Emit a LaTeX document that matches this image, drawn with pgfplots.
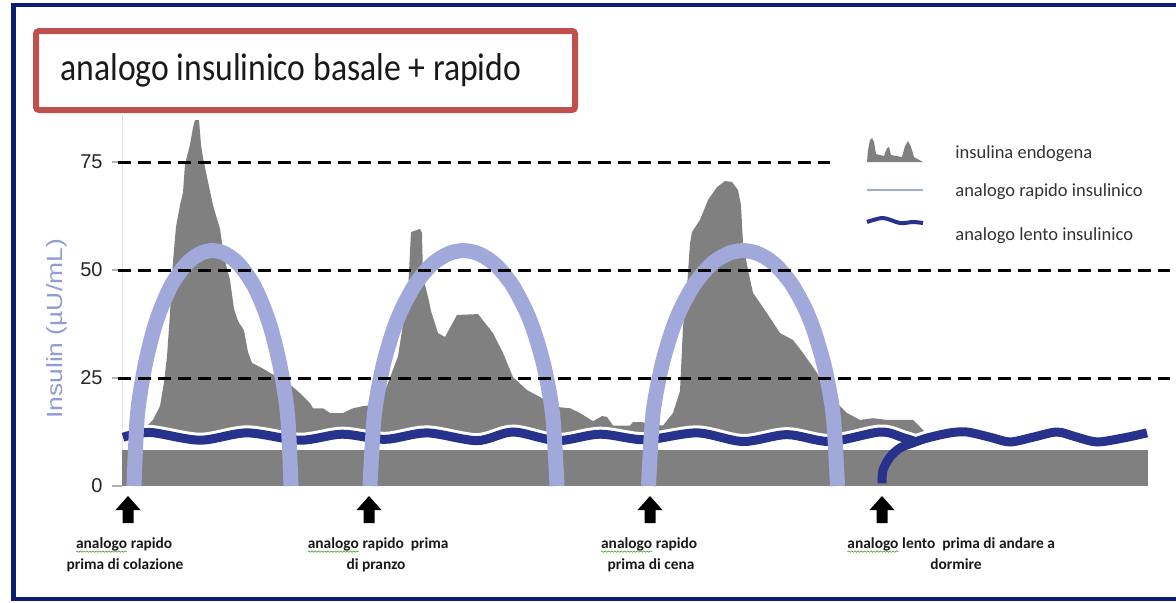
\documentclass[border=0pt]{standalone}
\usepackage{fontspec}
\setmainfont{Carlito}
\newfontfamily\helv{Liberation Sans}
\usepackage{pgfplots}
\pgfplotsset{compat=1.18}
\usetikzlibrary{decorations.pathmorphing}

\definecolor{archblue}{RGB}{160,169,218}
\definecolor{waveblue}{RGB}{38,50,140}
\definecolor{fillgray}{RGB}{128,128,128}
\definecolor{boxred}{RGB}{192,80,77}
\definecolor{frameblue}{RGB}{14,30,110}
\definecolor{labelblue}{RGB}{145,155,212}
\definecolor{squiggreen}{RGB}{80,150,60}

% spell-check squiggle under a word
\newcommand{\squig}[1]{\tikz[baseline=(sq.base)]{%
  \node[inner sep=0pt,outer sep=0pt,anchor=base](sq){#1};%
  \draw[squiggreen,line width=0.3pt,decorate,decoration={snake,amplitude=0.35pt,segment length=1.6pt}]
    ([yshift=-1.8pt]sq.base west) -- ([yshift=-1.8pt]sq.base east);}}

\begin{document}
\begin{tikzpicture}
\path[use as bounding box, fill=white] (0pt,0pt) rectangle (588pt,-301pt);

\begin{axis}[
  at={(61pt,-243pt)}, anchor=south west,
  scale only axis, width=513pt, height=185.76pt,
  xmin=122, xmax=1148, ymin=0, ymax=86,
  clip=false,
  axis x line=none, axis y line=left,
  y axis line style={-, draw=gray!25, line width=0.5pt},
  ytick={0,25,50,75},
  tick align=outside, major tick length=5pt,
  ytick style={draw=gray!60, line width=0.75pt},
  /pgf/number format/assume math mode=true,
  yticklabel style={font=\helv\fontsize{10}{10}\selectfont, text=black!85, anchor=east, inner sep=0pt, xshift=-4.5pt},
  ylabel={\scalebox{1.2}[1]{Insulin (µU/mL)}},
  every axis y label/.style={at={(axis description cs:0,0.423)}, xshift=-32.5pt, anchor=center, rotate=90,
    font=\helv\fontsize{11}{11}\selectfont, text=labelblue},
]
% basal gray band
\addplot[fill=fillgray, draw=none] coordinates {(122,8.4) (1148,8.4)} \closedcycle;

% insulina endogena
\addplot[fill=fillgray, draw=none] coordinates {
  (138,11.5) (140,13.2) (147,13.9) (153,15.3) (160,18.5) (164,24) (167,30) (170,40)
  (173,52) (176,60) (180,65) (183,68) (185,74.5) (190,79) (193,83) (195,84.7)
  (199,84.7) (201,79) (203,76) (207,71.5) (213,65) (220,59.5) (224,53) (230,47.7)
  (234,41) (238,38.2) (244,36) (248,31) (252,28.5) (262,27.3) (270,26.2) (287,24.1)
  (300,21.5) (310,19.2) (313,18.0) (323,18.0) (330,16.9) (343,16.9) (353,18.0)
  (363,18.5) (375,18.8) (385,22) (398,30) (408,45) (411,58.8) (420,59.5) (422,58.6)
  (423,48.4) (428,43.8) (431,40.5) (438,35.4) (445,34.5) (457,39.6) (478,39.8)
  (493,35.4) (503,30.8) (513,25.2) (527,22.2) (540,20.6) (557,18.3) (570,18.0)
  (580,16.9) (593,15.0) (602,16.2) (607,16.0) (613,14.0) (630,14.0) (633,14.8)
  (642,14.8) (650,14.3) (663,14.0) (673,16.9) (680,22) (683,36.8) (687,46)
  (690,56.2) (692,58.8) (700,61.6) (708,66.2) (717,69.2) (725,70.6) (732,70.4)
  (738,68.5) (741,65) (743,56.2) (748,50) (753,44.7) (767,40) (780,35.4)
  (793,33.8) (803,30.8) (817,26.2) (827,21.5) (847,16.9) (860,15.3) (873,15.7)
  (887,15.3) (913,15.3) (925,12.5) (928,11.5)
} -- cycle;

% analogo lento: white halo, then line
\addplot[white, line width=7.5pt, smooth] coordinates {
  (123,11.3) (150,12.4) (200,10.6) (247,12.3) (300,10.6) (342,12.0) (385,10.8)
  (427,12.3) (477,10.5) (513,12.5) (557,10.5) (600,12.0) (645,10.7) (697,12.3)
  (743,10.3) (787,11.9) (830,10.3) (880,12.5) (903,11.2) (915,10.3)
};
\addplot[white, line width=7.5pt, smooth] coordinates {
  (913,10.0) (927,11.1) (950,12.3) (967,12.5) (990,11.3) (1010,10.2) (1033,11.3)
  (1057,12.5) (1077,11.3) (1097,10.2) (1123,11.1) (1147,12.3)
};
\addplot[waveblue, line width=4.5pt, smooth] coordinates {
  (123,11.3) (150,12.4) (200,10.6) (247,12.3) (300,10.6) (342,12.0) (385,10.8)
  (427,12.3) (477,10.5) (513,12.5) (557,10.5) (600,12.0) (645,10.7) (697,12.3)
  (743,10.3) (787,11.9) (830,10.3) (880,12.5) (903,11.2) (915,10.3)
};
\addplot[waveblue, line width=4.5pt, smooth] coordinates {
  (882,0.6) (883,3.7) (890,6.7) (900,8.8) (913,10.0) (927,11.1) (950,12.3)
  (967,12.5) (990,11.3) (1010,10.2) (1033,11.3) (1057,12.5) (1077,11.3)
  (1097,10.2) (1123,11.1) (1147,12.3)
};

% analogo rapido: three arches
\addplot[archblue, line width=7.5pt, smooth] coordinates {
  (134,0) (137.4,16.35) (144.5,27.25) (152.8,35.4) (160.6,40.9) (170.9,46.3)
  (181.7,50.1) (190.5,52.3) (201.4,53.95) (212.5,54.5) (223.6,53.95) (234.5,52.3)
  (243.3,50.1) (254.1,46.3) (264.4,40.9) (272.2,35.4) (280.5,27.25) (287.6,16.35) (291,0)
};
\addplot[archblue, line width=7.5pt, smooth] coordinates {
  (370,0) (374.3,16.35) (382.5,27.25) (392.4,35.4) (401.7,40.9) (414.2,46.3)
  (426.8,50.1) (437.3,52.3) (450.3,53.95) (463.5,54.5) (476.7,53.95) (489.7,52.3)
  (500.2,50.1) (512.8,46.3) (525.3,40.9) (534.6,35.4) (544.5,27.25) (552.7,16.35) (557,0)
};
\addplot[archblue, line width=7.5pt, smooth] coordinates {
  (648.5,0) (652.8,16.35) (661.2,27.25) (671.2,35.4) (680.5,40.9) (693.2,46.3)
  (706.0,50.1) (716.5,52.3) (729.7,53.95) (743,54.5) (756.3,53.95) (769.5,52.3)
  (780.0,50.1) (792.8,46.3) (805.5,40.9) (814.8,35.4) (824.8,27.25) (833.2,16.35) (837.5,0)
};

% reference dashed lines
\addplot[black, line width=1.5pt, dash pattern=on 6.5pt off 3.5pt] coordinates {(118,75) (830,75)};
\addplot[black, line width=1.5pt, dash pattern=on 6.5pt off 3.5pt] coordinates {(118,50) (1170,50)};
\addplot[black, line width=1.5pt, dash pattern=on 6.5pt off 3.5pt] coordinates {(118,25) (1170,25)};
\end{axis}

\begin{scope}[x=0.5pt,y=-0.5pt]
  % frame
  \draw[frameblue, line width=2.5pt] (13.5,3) -- (13.5,600);
  \draw[frameblue, line width=2pt] (11,5) -- (1176,5);
  \draw[frameblue, line width=2pt] (11,598.5) -- (1176,598.5);

  % title box
  \draw[boxred, line width=3pt, rounded corners=1.5pt] (36,31) rectangle (575,110);
  \node[anchor=base west, inner sep=0pt, font=\fontsize{16.85}{20}\selectfont, text=black!90]
    at (60,80) {\scalebox{1}[1.15]{analogo insulinico basale + rapido}};

  % legend
  \fill[fillgray] (867,162) -- (868,150) -- (870,140) -- (872,138) -- (874,142) -- (876,154)
    -- (884,156) -- (887,148) -- (889,147) -- (891,155) -- (902,157) -- (905,146)
    -- (908,141) -- (911,147) -- (914,157) -- (923,162) -- cycle;
  \draw[archblue, line width=0.75pt] (867,190) -- (923,190);
  \draw[waveblue, line width=2pt] plot[smooth] coordinates {(867,222) (883,218) (900,223) (913,222) (923,223)};
  \begin{scope}[every node/.style={anchor=base west, inner sep=0pt, font=\fontsize{9.25}{11}\selectfont, text=black!80}]
    \node at (955,158) {insulina endogena};
    \node at (955,196) {analogo rapido insulinico};
    \node at (955,240) {analogo lento insulinico};
  \end{scope}

  % injection arrows
  \foreach \cx in {128,369,650,882} {
    \fill[black] (\cx,496) -- (\cx+12.5,510) -- (\cx+5.5,510) -- (\cx+5.5,523)
      -- (\cx-5.5,523) -- (\cx-5.5,510) -- (\cx-12.5,510) -- cycle;
  }

  % injection labels
  \begin{scope}[every node/.style={anchor=base, inner sep=0pt, font=\bfseries\fontsize{7.7}{9}\selectfont, text=black!90}]
    \node at (124,548) {\squig{analogo} rapido};
    \node at (125,569) {prima di colazione};
    \node at (378,548) {\squig{analogo} rapido\ \ prima};
    \node at (376,569) {di pranzo};
    \node at (649,548) {\squig{analogo} rapido};
    \node at (651,569) {prima di cena};
    \node at (951,548) {\squig{analogo} lento\ \ prima di andare a};
    \node at (956,569) {dormire};
  \end{scope}
\end{scope}
\end{tikzpicture}
\end{document}
